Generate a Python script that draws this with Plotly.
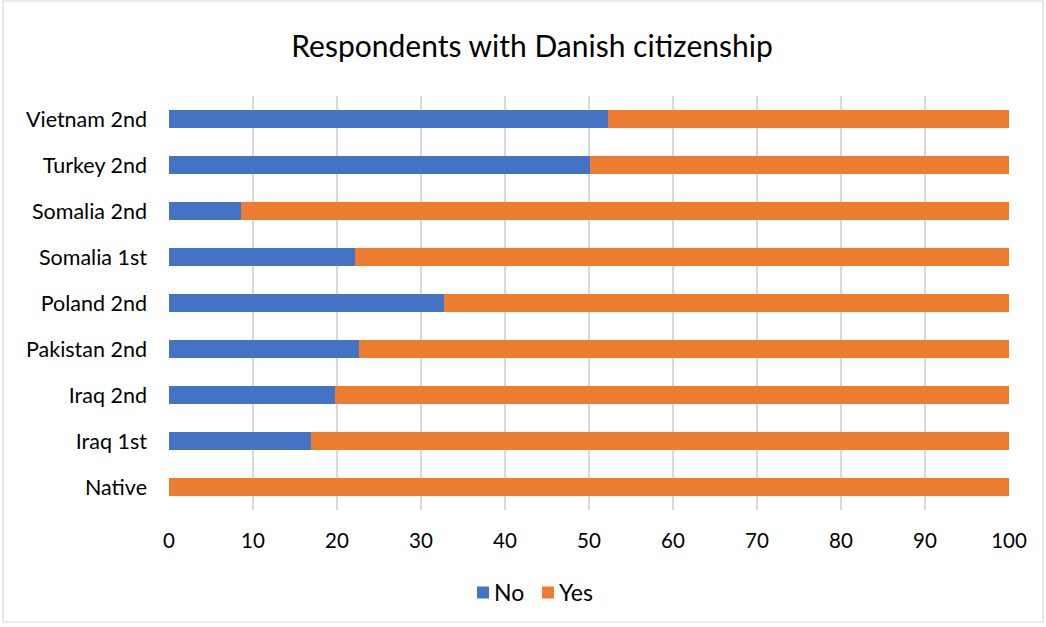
import plotly.graph_objects as go

# Groups listed bottom-to-top as they appear on the y axis
groups = ["Native", "Iraq 1st", "Iraq 2nd", "Pakistan 2nd", "Poland 2nd",
          "Somalia 1st", "Somalia 2nd", "Turkey 2nd", "Vietnam 2nd"]
no_pct = [0, 16.9, 19.8, 22.6, 32.7, 22.1, 8.6, 50.1, 52.3]
yes_pct = [100 - v for v in no_pct]
x_ticks = [0, 10, 20, 30, 40, 50, 60, 70, 80, 90, 100]

series = [("No", no_pct, "#4472C4"), ("Yes", yes_pct, "#ED7D31")]

FONT = "Lato, 'Open Sans', sans-serif"

fig = go.Figure()
for name, vals, color in series:
    fig.add_trace(go.Bar(y=groups, x=vals, name=name, orientation="h",
                         marker=dict(color=color, line=dict(width=0)), width=0.4))

L, R, T, B = 169, 37, 96, 117
W, H = 1046, 627
pw, ph = W - L - R, H - T - B


def px(x):
    return (x - L) / pw


def py(y):
    return (H - B - y) / ph


# Legend below the plot: small colour squares followed by the series name
shapes = [dict(type="rect", xref="paper", yref="paper",
               x0=px(3), x1=px(1043), y0=py(622), y1=py(1),
               line=dict(color="#d9d9d9", width=1.2), fillcolor="rgba(0,0,0,0)",
               layer="below")]
annotations = []
legend_x = [477, 542]
for (name, _, color), lx in zip(series, legend_x):
    shapes.append(dict(type="rect", xref="paper", yref="paper",
                       x0=px(lx), x1=px(lx + 12), y0=py(598.5), y1=py(586.5),
                       line=dict(width=0), fillcolor=color))
    annotations.append(dict(text=name, xref="paper", yref="paper",
                            x=px(lx + 15), y=py(592), xanchor="left", yanchor="middle",
                            showarrow=False, font=dict(size=23, family=FONT, color="#000")))

fig.update_layout(
    barmode="stack",
    width=W, height=H,
    margin=dict(l=L, r=R, t=T, b=B),
    paper_bgcolor="white", plot_bgcolor="white",
    font=dict(family=FONT, size=20, color="#000000"),
    showlegend=False,
    title=dict(text="Respondents with Danish citizenship", x=532 / W, xanchor="center",
               xref="container", y=1 - 46 / H, yanchor="middle",
               font=dict(size=30, family=FONT)),
    xaxis=dict(range=[0, 100], tickvals=x_ticks, showgrid=True, gridcolor="#d9d9d9",
               gridwidth=1.5, zeroline=False, showline=False, ticks="",
               tickfont=dict(size=20.5), ticklabelstandoff=16),
    yaxis=dict(categoryorder="array", categoryarray=groups, range=[-0.5, 8.5],
               showgrid=False, zeroline=False, showline=False, ticks="",
               tickfont=dict(size=21.5), ticklabelstandoff=21),
    shapes=shapes,
    annotations=annotations,
)

fig.write_html("out.html")
